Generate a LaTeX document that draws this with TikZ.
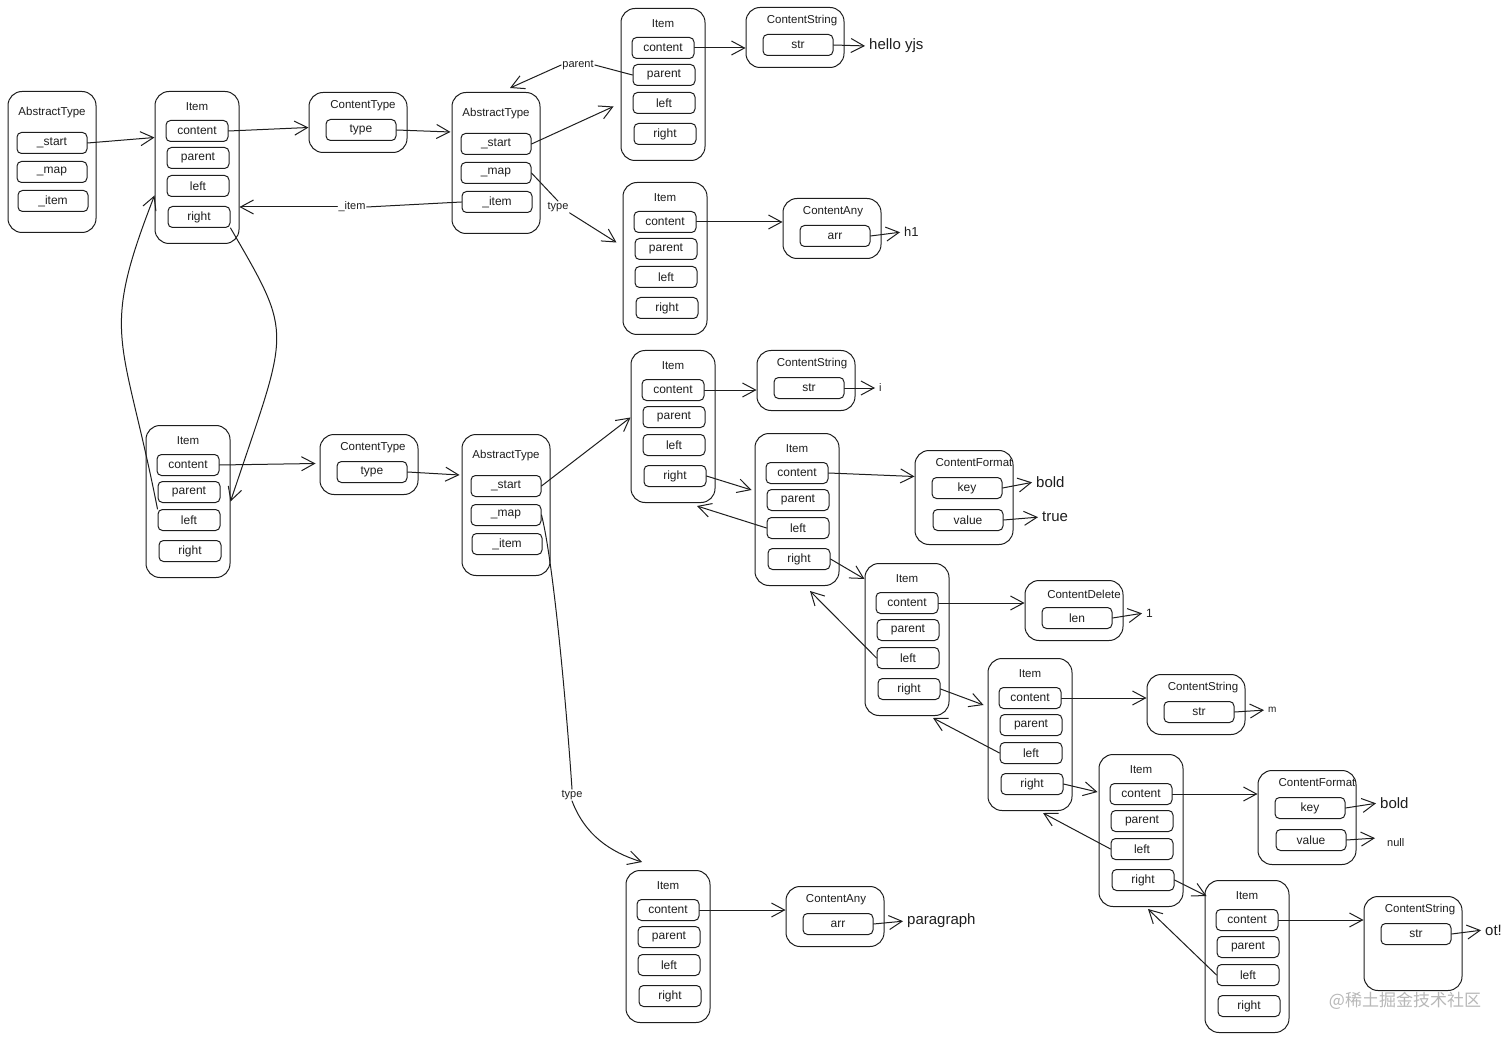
\documentclass[tikz,border=0pt]{standalone}
\usepackage{fontspec}
\setmainfont{Liberation Sans}
\newfontfamily\cjkfont{Noto Sans CJK SC}
\usetikzlibrary{arrows.meta,calc}
\definecolor{inkc}{HTML}{1E1E1E}
\definecolor{wmgray}{HTML}{B8B8B8}
\tikzset{
  ink/.style={draw=inkc, line width=1pt},
  outerbox/.style={ink, rounded corners=14pt, inner sep=0pt},
  fieldbox/.style={ink, rounded corners=4.5pt, minimum height=21pt, inner sep=0pt, font=\fontsize{12}{14}\selectfont, text=inkc},
  ifield/.style={fieldbox, minimum width=62pt},
  wfield/.style={fieldbox, minimum width=70pt},
  ttl/.style={font=\fontsize{11.5}{13}\selectfont, text=inkc, inner sep=1pt},
  conn/.style={draw=inkc, line width=1pt, line cap=round, line join=round},
  arr/.style={conn, -{Straight Barb[length=13pt,width=14pt]}},
  varr/.style={arr, shorten >=2pt},
  vlabel/.style={font=\fontsize{15}{17}\selectfont, text=inkc, inner sep=2pt, anchor=west},
  elabel/.style={font=\fontsize{11}{13}\selectfont, text=inkc, inner sep=1pt, fill=white},
}
\newcommand\mkitem[3]{%
  \node[outerbox, minimum width=84pt, minimum height=152pt, anchor=north] (#1) at (#2,#3) {};
  \node[ttl] (#1-t) at ({#2},{#3+16}) {Item};
  \node[ifield] (#1-c) at ({#2},{#3+40}) {content};
  \node[ifield] (#1-p) at ({#2+1},{#3+67}) {parent};
  \node[ifield] (#1-l) at ({#2+1},{#3+95}) {left};
  \node[ifield] (#1-r) at ({#2+2},{#3+126}) {right};
}
\newcommand\mkabstract[3]{%
  \node[outerbox, minimum width=88pt, minimum height=141pt, anchor=north] (#1) at (#2,#3) {};
  \node[ttl] (#1-t) at ({#2},{#3+22}) {AbstractType};
  \node[wfield] (#1-s) at ({#2},{#3+52}) {\_start};
  \node[wfield] (#1-m) at ({#2},{#3+81}) {\_map};
  \node[wfield] (#1-i) at ({#2+1},{#3+110}) {\_item};
}
% name, cx, top, height, title, field, title dx
\newcommand\mkcontent[7]{%
  \node[outerbox, minimum width=98pt, minimum height=#4, anchor=north] (#1) at (#2,#3) {};
  \node[ttl] (#1-t) at ({#2+#7},{#3+14}) {#5};
  \node[wfield] (#1-f) at ({#2+3},{#3+38}) {#6};
}
\newcommand\mkformat[3]{%
  \node[outerbox, minimum width=98pt, minimum height=94pt, anchor=north] (#1) at (#2,#3) {};
  \node[ttl] (#1-t) at ({#2+10},{#3+13}) {ContentFormat};
  \node[wfield] (#1-k) at ({#2+3},{#3+38}) {key};
  \node[wfield] (#1-v) at ({#2+4},{#3+70}) {value};
}
\begin{document}
\begin{tikzpicture}[x=1pt,y=-1pt]
\useasboundingbox[fill=white] (0,0) rectangle (1512,1040);

% ---- boxes ----
\mkabstract{A1}{52}{91}
\mkitem{I1}{197}{91}
\mkcontent{CT1}{358}{92}{60pt}{ContentType}{type}{5}
\mkabstract{A2}{496}{92}
\mkitem{I2}{663}{8}
\mkcontent{CS1}{795}{7}{60pt}{ContentString}{str}{7}
\mkitem{I3}{665}{182}
\mkcontent{CA1}{832}{198}{60pt}{ContentAny}{arr}{1}
\mkitem{I4}{188}{425}
\mkcontent{CT2}{369}{434}{60pt}{ContentType}{type}{4}
\mkabstract{A3}{506}{434}
\mkitem{I5}{673}{350}
\mkcontent{CS2}{806}{350}{60pt}{ContentString}{str}{6}
\mkitem{I6}{797}{433}
\mkformat{CF1}{964}{450}
\mkitem{I7}{907}{563}
\mkcontent{CD}{1074}{580}{60pt}{ContentDelete}{len}{10}
\mkitem{I8}{1030}{658}
\mkcontent{CS3}{1196}{674}{60pt}{ContentString}{str}{7}
\mkitem{I9}{1141}{754}
\mkformat{CF2}{1307}{770}
\mkitem{I10}{1247}{880}
\mkcontent{CS4}{1413}{896}{94pt}{ContentString}{str}{7}
\mkitem{I11}{668}{870}
\mkcontent{CA2}{835}{886}{60pt}{ContentAny}{arr}{1}

% ---- value labels ----
\node[vlabel] (vhello) at (867,46) {hello yjs};
\node[vlabel, font=\fontsize{13}{15}\selectfont] (vh1) at (902,232) {h1};
\node[vlabel, font=\fontsize{11}{13}\selectfont] (vi) at (877,388) {i};
\node[vlabel] (vbold1) at (1034,482) {bold};
\node[vlabel] (vtrue) at (1040,517) {true};
\node[vlabel, font=\fontsize{12}{14}\selectfont] (vone) at (1144,613) {1};
\node[vlabel, font=\fontsize{10}{12}\selectfont] (vm) at (1266,710) {m};
\node[vlabel] (vbold2) at (1378,803) {bold};
\node[vlabel, font=\fontsize{11}{13}\selectfont] (vnull) at (1385,843) {null};
\node[vlabel] (vot) at (1483,930) {ot!};
\node[vlabel] (vpara) at (905,921) {paragraph};

% ---- edge labels ----
\node[elabel] (lpar) at (578,65) {parent};
\node[elabel] (ltyp1) at (558,207) {type};
\node[elabel] (litem) at (352,207) {\_item};
\node[elabel] (ltyp2) at (572,795) {type};

% ---- connectors, upper part ----
\draw[arr] (A1-s.east) -- ($(I1.west)+(0,-30)$);
\draw[arr] (I1-c.east) -- ($(CT1.west)+(0,5)$);
\draw[arr] (CT1-f.east) -- ($(A2.west)+(-1,-31)$);
\draw[arr] (A2-s.east) -- ($(I2.west)+(-7,22)$);
\draw[conn] (I2-p.west) -- (lpar.east);
\draw[arr] (lpar.west) -- ($(A2.north)+(14,-4)$);
\draw[conn] (A2-m.east) -- (ltyp1.north);
\draw[arr] (ltyp1.south east) -- ($(I3.west)+(-6,-16)$);
\draw[conn] (A2-i.west) -- (litem.east);
\draw[arr] (litem.west) -- (I1.east |- litem.west);
\draw[arr] (I2-c.east) -- (CS1.west |- I2-c.east);
\draw[varr] (CS1-f.east) -- (vhello.west);
\draw[arr] (I3-c.east) -- (CA1.west |- I3-c.east);
\draw[varr] (CA1-f.east) -- (vh1.west);

% ---- links between the two left Items ----
\draw[arr] (I1-r.south east) .. controls (295,339) and (289,326) .. (I4.east);
\draw[arr] (I4-l.north west) .. controls (123,334) and (99,338) .. ($(I1.west)+(0,28)$);

% ---- lower part ----
\draw[arr] (I4-c.east) -- ($(CT2.west)+(-4,-1)$);
\draw[arr] (CT2-f.east) -- ($(A3.west)+(-2,-30)$);
\draw[arr] (A3-s.east) -- ($(I5.west)+(0,-9)$);
\draw[conn] (A3-m.east) .. controls (553,560) and (566,700) .. (ltyp2.north);
\draw[arr] (ltyp2.south) .. controls (585,835) and (610,852) .. ($(I11.north)+(-26,-8)$);

\draw[arr] (I5-c.east) -- (CS2.west |- I5-c.east);
\draw[varr] (CS2-f.east) -- (vi.west);
\draw[arr] (I5-r.east) -- ($(I6.north west)+(-3,57)$);
\draw[arr] (I6-l.west) -- ($(I5.south)+(24,3)$);
\draw[arr] (I6-c.east) -- ($(CF1.west)+(0,-21)$);
\draw[varr] (CF1-k.east) -- (vbold1.west);
\draw[varr] (CF1-v.east) -- (vtrue.west);

\draw[arr] (I6-r.east) -- ($(I7.north west)+(0,16)$);
\draw[arr] (I7-l.west) -- ($(I6.south)+(13,5)$);
\draw[arr] (I7-c.east) -- (CD.west |- I7-c.east);
\draw[varr] (CD-f.east) -- (vone.west);

\draw[arr] (I7-r.east) -- ($(I8.north west)+(-4,47)$);
\draw[arr] (I8-l.west) -- ($(I7.south)+(26,2)$);
\draw[arr] (I8-c.east) -- (CS3.west |- I8-c.east);
\draw[varr] (CS3-f.east) -- (vm.west);

\draw[arr] (I8-r.east) -- ($(I9.north west)+(-1,38)$);
\draw[arr] (I9-l.west) -- ($(I8.south)+(13,2)$);
\draw[arr] (I9-c.east) -- (CF2.west |- I9-c.east);
\draw[varr] (CF2-k.east) -- (vbold2.west);
\draw[varr] (CF2-v.east) -- ($(vnull.west)+(-8,-5)$);

\draw[arr] (I9-r.east) -- ($(I10.north west)+(2,16)$);
\draw[arr] (I10-l.west) -- ($(I9.south)+(7,2)$);
\draw[arr] (I10-c.east) -- (CS4.west |- I10-c.east);
\draw[varr] (CS4-f.east) -- (vot.west);

\draw[arr] (I11-c.east) -- (CA2.west |- I11-c.east);
\draw[varr] (CA2-f.east) -- (vpara.west);

% ---- watermark ----
\node[font=\cjkfont\fontsize{17}{19}\selectfont, text=wmgray, inner sep=0pt] (wm) at (1405,1001) {@稀土掘金技术社区};
\end{tikzpicture}
\end{document}
